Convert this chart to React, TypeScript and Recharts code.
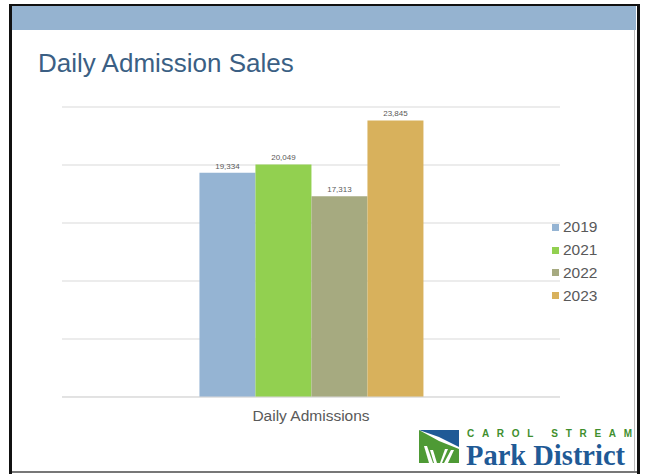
import { Bar, BarChart, CartesianGrid, LabelList, XAxis, YAxis } from "recharts";

const categories = ["Daily Admissions"];
const seriesYears = ["2019", "2021", "2022", "2023"];
const admissions = [19334, 20049, 17313, 23845];
const seriesColors = ["#95B4D3", "#92D050", "#A6AA80", "#D8B15C"];
const yTicks = [0, 5000, 10000, 15000, 20000, 25000];

const chartData = categories.map((name) => {
  const row: Record<string, string | number> = { name };
  seriesYears.forEach((y, i) => {
    row[y] = admissions[i];
  });
  return row;
});

const FONT = "Arial, 'Liberation Sans', sans-serif";

function Frame() {
  return (
    <svg width={645} height={474} style={{ position: "absolute", left: 0, top: 0 }}>
      <rect x={0} y={0} width={645} height={474} fill="#fff" />
      <rect x={12} y={6} width={624} height={24} fill="#95B3D0" />
      {/* slide border */}
      <rect x={9} y={4} width={3} height={470} fill="#111" />
      <rect x={9} y={4} width={631} height={2} fill="#111" />
      <rect x={637} y={4} width={3} height={470} fill="#111" />
      <rect x={634} y={30} width={1} height={442} fill="#bbb" />
      <rect x={12} y={471} width={625} height={2} fill="#777" />
      <text x={38} y={72} fontFamily={FONT} fontSize={26} fill="#3B5F84">
        Daily Admission Sales
      </text>
      {/* logo */}
      <g>
        <polygon points="419,430 459,430 459,447 439,437" fill="#1F5A96" />
        <polygon points="419,430 439,441 439,463 419,463" fill="#4E9A35" />
        <polygon points="439,441 459,449 459,463 439,463" fill="#4E9A35" />
        <polygon points="424,446 427,446 433,463 429,463" fill="#fff" />
        <polygon points="430,450 433,450 437,463 434,463" fill="#fff" />
        <polygon points="451,450 454,450 448,463 444,463" fill="#fff" />
        <polygon points="445,449 448,449 442,463 440,463" fill="#fff" />
      </g>
      <text
        x={467}
        y={436.5}
        fontFamily={FONT}
        fontSize={10}
        fontWeight="bold"
        fill="#3F8F2E"
        textLength={165}
        lengthAdjust="spacing"
      >
        CAROL STREAM
      </text>
      <text
        x={466}
        y={464.5}
        fontFamily="'Liberation Serif', 'Times New Roman', serif"
        fontSize={28.5}
        fontWeight="bold"
        fill="#1F5A96"
      >
        Park District
      </text>
    </svg>
  );
}

export default function App() {
  return (
    <div
      style={{
        position: "absolute",
        left: 0,
        top: 0,
        width: 645,
        height: 474,
        overflow: "hidden",
        fontFamily: FONT,
      }}
    >
      <Frame />
      <div style={{ position: "absolute", left: 0, top: 0 }}>
        <BarChart
          width={645}
          height={474}
          data={chartData}
          margin={{ top: 107, right: 85, bottom: 47, left: 62 }}
          barCategoryGap="27.6%"
          barGap={0}
        >
          <CartesianGrid vertical={false} stroke="#D9D9D9" />
          <YAxis hide domain={[0, 25000]} ticks={yTicks} />
          <XAxis
            dataKey="name"
            height={30}
            tickLine={false}
            tickSize={6}
            tickMargin={7}
            axisLine={{ stroke: "#D9D9D9" }}
            tick={{ fontSize: 15.5, fill: "#595959", fontFamily: FONT }}
          />
          {seriesYears.map((y, i) => (
            <Bar key={y} dataKey={y} fill={seriesColors[i]} isAnimationActive={false}>
              <LabelList
                dataKey={y}
                position="top"
                offset={4}
                fontSize={8}
                fill="#595959"
                fontFamily={FONT}
                formatter={(v: number) => Number(v).toLocaleString("en-US")}
              />
            </Bar>
          ))}
        </BarChart>
      </div>
      <div style={{ position: "absolute", left: 552, top: 216 }}>
        {seriesYears.map((y, i) => (
          <div
            key={y}
            style={{ display: "flex", alignItems: "center", height: 22.8, fontSize: 15.5, color: "#595959" }}
          >
            <span style={{ width: 7, height: 7, background: seriesColors[i], marginRight: 4, display: "inline-block" }} />
            <span>{y}</span>
          </div>
        ))}
      </div>
    </div>
  );
}
